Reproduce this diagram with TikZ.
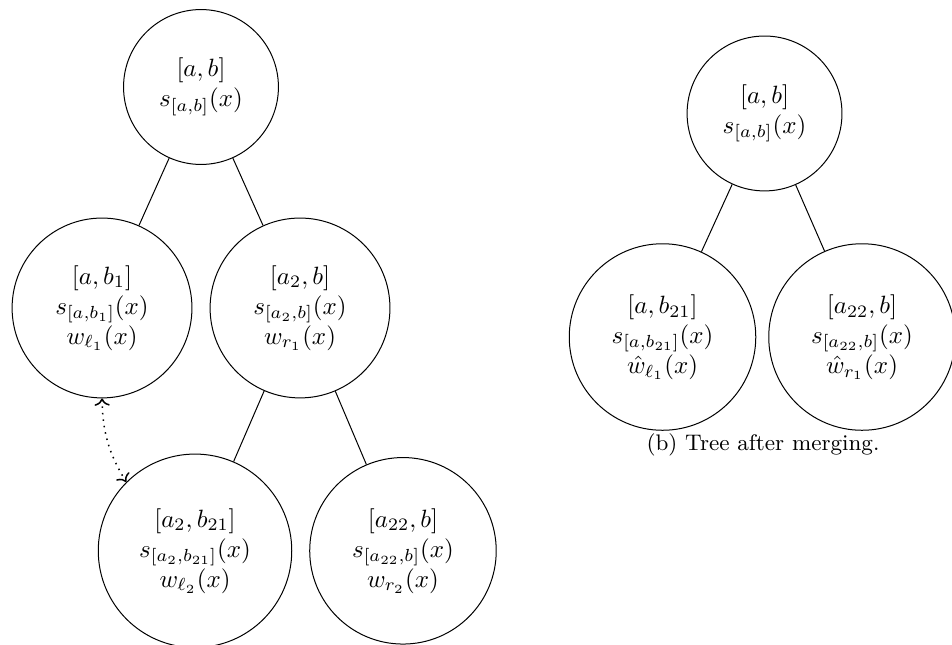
\documentclass[tikz,border=0pt]{standalone}
\usepackage{tikz}
\usetikzlibrary{
    arrows.meta,
    positioning
}
\usepackage{amsmath, amssymb}

\tikzset{
    treenode/.style={draw, circle, align=center, inner sep=7.6pt},
    capt/.style={font=\small}
}

\begin{document}
\begin{tikzpicture}
    \useasboundingbox (0,0) rectangle (13.381,9.052);

    % tree before merging
    \node[treenode] (root) at (2.825,7.829) {$[a,b]$\\$s_{[a,b]}(x)$};
    \node[treenode] (l1)   at (1.434,4.723) {$[a,b_1]$\\$s_{[a,b_1]}(x)$\\$w_{\ell_1}(x)$};
    \node[treenode] (r1)   at (4.217,4.723) {$[a_2,b]$\\$s_{[a_2,b]}(x)$\\$w_{r_1}(x)$};
    \node[treenode] (l2)   at (2.741,1.310) {$[a_2,b_{21}]$\\$s_{[a_2,b_{21}]}(x)$\\$w_{\ell_2}(x)$};
    \node[treenode] (r2)   at (5.664,1.310) {$[a_{22},b]$\\$s_{[a_{22},b]}(x)$\\$w_{r_2}(x)$};

    \draw (root) -- (l1);
    \draw (root) -- (r1);
    \draw (r1) -- (l2);
    \draw (r1) -- (r2);
    \draw[<->,dotted,semithick] (l1.south) to[bend right=15] (l2.north west);

    % tree after merging
    \node[treenode] (mroot) at (10.746,7.457) {$[a,b]$\\$s_{[a,b]}(x)$};
    \node[treenode] (ml)    at (9.312,4.315)  {$[a,b_{21}]$\\$s_{[a,b_{21}]}(x)$\\$\hat{w}_{\ell_1}(x)$};
    \node[treenode] (mr)    at (12.116,4.315) {$[a_{22},b]$\\$s_{[a_{22},b]}(x)$\\$\hat{w}_{r_1}(x)$};

    \draw (mroot) -- (ml);
    \draw (mroot) -- (mr);

    \node[capt] (captb) at (10.725,2.80) {(b) Tree after merging.};
\end{tikzpicture}
\end{document}
